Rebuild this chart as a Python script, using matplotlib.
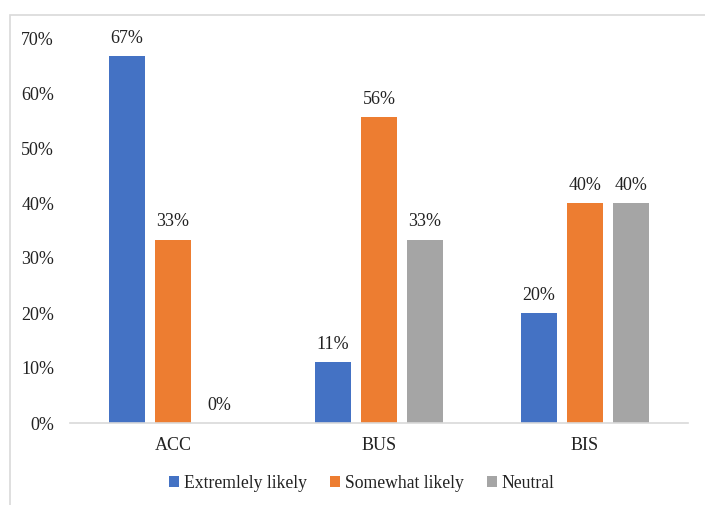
import numpy as np
import matplotlib
matplotlib.use("Agg")
from matplotlib import pyplot as plt
from matplotlib.patches import Rectangle
from matplotlib.ticker import FuncFormatter

# データ
categories = ["ACC", "BUS", "BIS"]
series_names = ["Extremlely likely", "Somewhat likely", "Neutral"]
extremely = [0.6667, 0.1111, 0.20]
somewhat = [0.3333, 0.5556, 0.40]
neutral = [0.0, 0.3333, 0.40]
colors = ["#4472C4", "#ED7D31", "#A5A5A5"]

plt.rcParams['font.family'] = ['Liberation Serif', 'DejaVu Serif']
plt.rcParams['font.size'] = 13
txt_color = "#222222"

fig = plt.figure(figsize=(7.05, 5.05), dpi=100)
ax = fig.add_axes([70/705, 1-423/505, (688-70)/705, (423-38)/505])

# 外枠
fig.patches.append(Rectangle((10/705, -0.1), 1.2, 1-15/505+0.1, transform=fig.transFigure,
                             fill=False, edgecolor="#D9D9D9", lw=1.2, clip_on=False))

x = np.arange(len(categories))
w = 0.175
step = 0.223
for i, (vals, name, c) in enumerate(zip([extremely, somewhat, neutral], series_names, colors)):
    pos = x + (i - 1) * step
    bars = ax.bar(pos, vals, w, color=c, label=name)
    for p, v in zip(pos, vals):
        ax.text(p, v + 0.017, f"{v*100:.0f}%", ha="center", va="bottom", color=txt_color, fontsize=13)

ax.set_xlim(-0.5, 2.5)
ax.set_ylim(0, 0.7)
ax.set_yticks(np.arange(0, 0.71, 0.1))
ax.yaxis.set_major_formatter(FuncFormatter(lambda v, p: f"{v*100:.0f}%"))
ax.set_xticks(x)
ax.set_xticklabels(categories)
ax.tick_params(axis="both", length=0, colors=txt_color, labelsize=13)
ax.tick_params(axis="y", pad=11.5)
ax.tick_params(axis="x", pad=10)

for s in ["top", "right", "left"]:
    ax.spines[s].set_visible(False)
ax.spines["bottom"].set_color("#D9D9D9")
ax.spines["bottom"].set_linewidth(1.2)

fig.legend(loc="center", bbox_to_anchor=(362/705, 1-483/505), ncol=3, frameon=False,
           handlelength=0.55, handleheight=0.55, handletextpad=0.3, columnspacing=1.3,
           fontsize=12.7, labelcolor=txt_color)

fig.savefig("out.png", dpi=100)
